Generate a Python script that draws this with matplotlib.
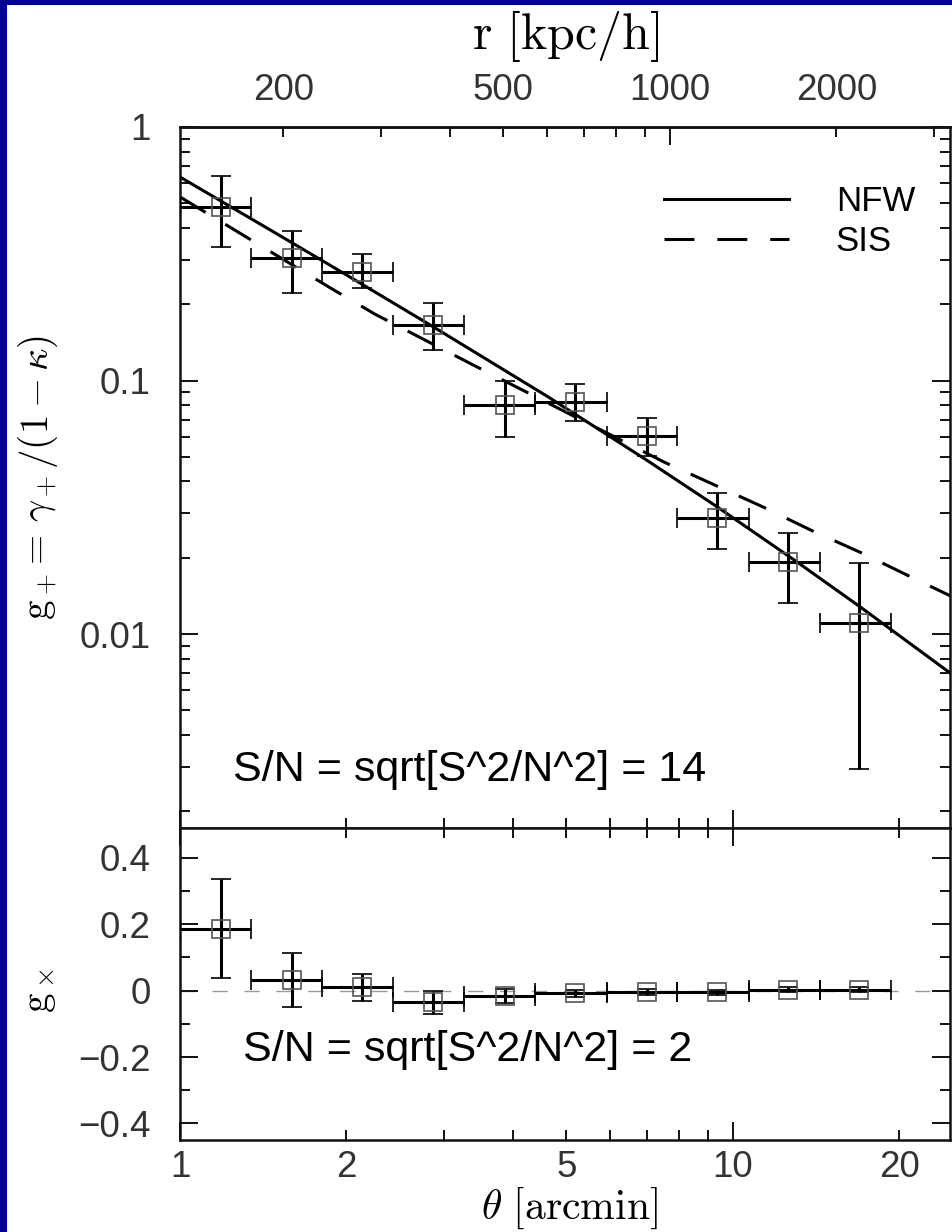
import numpy as np
import matplotlib.pyplot as plt
from matplotlib.patches import Rectangle
from matplotlib.ticker import LogLocator, NullFormatter

plt.rcParams['mathtext.fontset'] = 'cm'
plt.rcParams['font.family'] = ['Liberation Sans', 'DejaVu Sans']

# conversion of the angular scale to physical radius at the cluster redshift
KPC_PER_ARCMIN = 130.0

# radial bins [arcmin]
bin_edges = [1.0, 1.345, 1.81, 2.43, 3.27, 4.39, 5.91, 7.94, 10.68, 14.36, 19.3]
theta = [1.185, 1.592, 2.13, 2.87, 3.87, 5.18, 6.98, 9.37, 12.56, 16.92]

# tangential reduced shear and its error bar ends
g_plus = [0.485, 0.303, 0.269, 0.1655, 0.080, 0.0825, 0.0604, 0.0288, 0.0192, 0.0111]
g_plus_hi = [0.641, 0.389, 0.315, 0.203, 0.100, 0.0966, 0.0713, 0.0359, 0.0251, 0.0190]
g_plus_lo = [0.337, 0.222, 0.231, 0.132, 0.060, 0.0692, 0.0504, 0.0216, 0.0133, 0.00293]

# cross shear
g_cross = [0.187, 0.032, 0.010, -0.035, -0.015, -0.008, -0.005, -0.005, 0.003, 0.003]
g_cross_err = [0.150, 0.082, 0.041, 0.035, 0.021, 0.011, 0.009, 0.008, 0.008, 0.008]

# best fit models
nfw_theta = [1.0, 1.5, 2.0, 2.87, 4.63, 7.0, 9.36, 13.0, 17.0, 25.0]
nfw_g = [0.635, 0.378, 0.261, 0.163, 0.0863, 0.0484, 0.0318, 0.0194, 0.0128, 0.0069]
sis_theta = [1.0, 1.87, 2.25, 3.37, 7.51, 9.28, 11.35, 13.95, 17.1, 21.0, 25.0]
sis_g = [0.53, 0.232, 0.183, 0.116, 0.0477, 0.0387, 0.0317, 0.0255, 0.0209, 0.0168, 0.0140]

sn_plus = 14
sn_cross = 2

W, H = 952, 1232
NAVY = '#000091'
TICKCOL = '#333333'


def px(x0, y0, x1, y1):
    # pixel box (top-left origin) -> figure fraction rect
    return [x0 / W, 1 - y1 / H, (x1 - x0) / W, (y1 - y0) / H]


def style_axis(ax):
    for s in ax.spines.values():
        s.set_linewidth(1.8)
        s.set_color('#111111')
    ax.tick_params(which='both', direction='in', width=1.4, colors='#111111',
                   labelcolor=TICKCOL, labelsize=26.5)
    ax.tick_params(which='major', length=13)
    ax.tick_params(which='minor', length=7)


fig = plt.figure(figsize=(W / 100, H / 100), dpi=100, facecolor=NAVY)
fig.add_artist(Rectangle((7 / W, 0), 1, 1 - 5 / H, transform=fig.transFigure,
                         facecolor='white', edgecolor='none', zorder=-10))

ax1 = fig.add_axes(px(180, 127, 950, 828))
ax2 = fig.add_axes(px(180, 828, 950, 1140), sharex=ax1)

xlo = np.array(theta) - np.array(bin_edges[:-1])
xhi = np.array(bin_edges[1:]) - np.array(theta)
eb_kw = dict(fmt='s', ms=13, mfc='none', mec='#555555', mew=1.2, ecolor='black',
             elinewidth=2.2, capsize=7.5, capthick=2.2, zorder=3)

# upper panel: tangential shear
ax1.plot(nfw_theta, nfw_g, color='black', lw=2.2, label='NFW')
ax1.plot(sis_theta, sis_g, color='black', lw=2.2, ls=(0, (9.8, 7.5)), label='SIS')
ax1.errorbar(theta, g_plus,
             yerr=[np.array(g_plus) - np.array(g_plus_lo), np.array(g_plus_hi) - np.array(g_plus)],
             xerr=[xlo, xhi], **eb_kw)
ax1.set_xscale('log')
ax1.set_yscale('log')
ax1.set_xlim(1, 24.7)
ax1.set_ylim(0.00172, 1)
ax1.set_yticks([0.01, 0.1, 1], labels=['0.01', '0.1', '1'])
ax1.yaxis.set_minor_locator(LogLocator(base=10, subs=np.arange(2, 10)))
ax1.yaxis.set_minor_formatter(NullFormatter())
style_axis(ax1)
ax1.tick_params(which='both', top=False, right=True, labelbottom=False, pad=21)
ax1.set_ylabel(r'$\mathrm{g}_+\!=\,\gamma_+/(1-\kappa)$', fontsize=28, va='center')
ax1.yaxis.set_label_coords((38 - 180) / 770, 0.5)
ax1.text(0.069, 0.083, f'S/N = sqrt[S^2/N^2] = {sn_plus}', transform=ax1.transAxes,
         fontsize=31, va='center', ha='left', color='black')
ax1.legend(loc='upper right', bbox_to_anchor=((915 - 180) / 770, (828 - 185) / 701),
           frameon=False, fontsize=25, handlelength=3.6, handletextpad=1.35,
           labelspacing=0.2, borderpad=0, borderaxespad=0)

# secondary axis in physical units
secax = ax1.secondary_xaxis('top', functions=(lambda t: t * KPC_PER_ARCMIN,
                                              lambda r: r / KPC_PER_ARCMIN))
secax.set_xticks([1000], labels=['1000'])
secax.set_xticks([200, 300, 400, 500, 600, 700, 800, 900, 2000, 3000],
                 labels=['200', '', '', '500', '', '', '', '', '2000', ''], minor=True)
style_axis(secax)
secax.tick_params(which='both', pad=14)
fig.text(566 / W, 1 - 36 / H, r'$\mathrm{r\ [kpc/h]}$', fontsize=36,
         ha='center', va='center')

# lower panel: cross shear
ax2.axhline(0, color='#999999', lw=1.0, ls=(0, (11, 12)), zorder=1)
ax2.errorbar(theta, g_cross, yerr=g_cross_err, xerr=[xlo, xhi], **eb_kw)
ax2.set_ylim(-0.45, 0.49)
ax2.set_yticks([-0.4, -0.2, 0, 0.2, 0.4], labels=['\u22120.4', '\u22120.2', '0', '0.2', '0.4'])
ax2.set_yticks([-0.3, -0.1, 0.1, 0.3], minor=True)
ax2.set_xticks([1, 10], labels=['1', '10'])
ax2.set_xticks([2, 3, 4, 5, 6, 7, 8, 9, 20],
               labels=['2', '', '', '5', '', '', '', '', '20'], minor=True)
style_axis(ax2)
ax2.tick_params(which='both', top=True, right=True, pad=21)
ax2.tick_params(axis='x', which='both', pad=7)
ax2.set_ylabel(r'$\mathrm{g}_\times$', fontsize=28, va='center')
ax2.yaxis.set_label_coords((40 - 180) / 770, (1140 - 990) / 312)
fig.text(569 / W, 1 - 1231 / H, r'$\theta\ \mathrm{[arcmin]}$', fontsize=30,
         ha='center', va='bottom')
ax2.text(0.082, 0.288, f'S/N = sqrt[S^2/N^2] = {sn_cross}', transform=ax2.transAxes,
         fontsize=31, va='center', ha='left', color='black')

fig.savefig('out.png', dpi=100, facecolor=fig.get_facecolor())
